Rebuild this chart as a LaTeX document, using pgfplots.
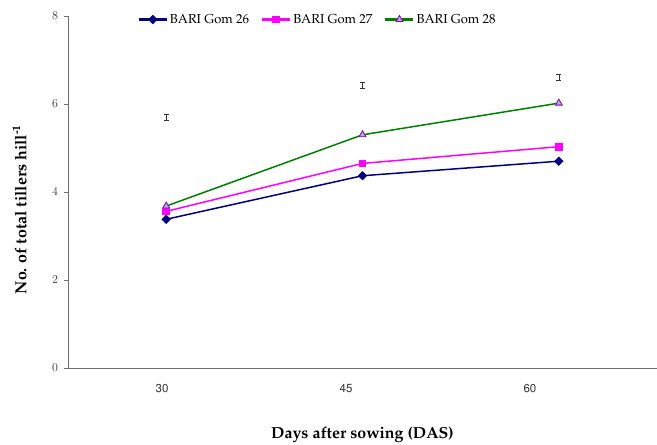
\documentclass[border=0pt]{standalone}
\usepackage[T1]{fontenc}
\usepackage{pgfplots}
\pgfplotsset{compat=1.18}
\renewcommand{\rmdefault}{ppl}
\newcommand{\ticksf}{\fontfamily{phv}\fontsize{11.5}{13}\selectfont}

\definecolor{gom26}{RGB}{0,0,128}
\definecolor{gom27}{RGB}{255,0,255}
\definecolor{gom28}{RGB}{0,128,0}
\definecolor{trifill}{RGB}{150,180,240}
\definecolor{triedge}{RGB}{150,0,160}
\definecolor{axisgray}{RGB}{110,110,110}

\begin{document}
\begin{tikzpicture}
\path[use as bounding box] (0pt,0pt) rectangle (657pt,445pt);
\begin{axis}[
  at={(68pt,77pt)}, anchor=south west,
  scale only axis, width=589pt, height=352pt,
  xmin=-0.5, xmax=2.5, ymin=0, ymax=8,
  axis x line*=bottom, axis y line*=left,
  axis line style={-, axisgray, line width=0.8pt},
  ytick={0,2,4,6,8},
  tick align=outside, major tick length=4pt,
  tick style={axisgray, line width=0.6pt},
  xtick={-0.021,0.916,1.853}, xticklabels={30,45,60},
  xtick style={draw=none},
  extra x ticks={0.453,1.39}, extra x tick labels={},
  extra x tick style={tick style={axisgray, line width=0.6pt}, major tick length=3pt},
  ticklabel style={font=\ticksf, text=black!80},
  xticklabel style={anchor=center, yshift=-17pt},
  yticklabel style={anchor=center, xshift=-9pt},
  xlabel={\textbf{Days after sowing (DAS)}},
  ylabel={\textbf{No. of total tillers hill\textsuperscript{-1}}},
  label style={font=\fontsize{16}{18}\selectfont},
  xlabel style={at={(axis description cs:0.5,-0.19)}, anchor=center},
  ylabel style={at={(axis description cs:-0.082,0.45)}, anchor=center},
  legend columns=3,
  legend style={draw=none, fill=none, at={(axis description cs:0.113,0.99)}, anchor=west,
    font=\fontsize{13}{15}\selectfont,
    /tikz/every even column/.append style={column sep=10pt}},
  legend image code/.code={
    \draw[#1, line width=2.2pt] (0pt,0pt) -- (28pt,0pt);
    \draw[#1, only marks] plot coordinates {(14pt,0pt)};},
  clip=false,
]
\addplot[gom26, line width=1.5pt, mark=square*, mark size=2.9pt,
  mark options={solid, rotate=45, line width=0.8pt}]
  coordinates {(0,3.38) (1,4.37) (2,4.70)};
\addlegendentry{BARI Gom 26}
\addplot[gom27, line width=1.5pt, mark=square*, mark size=3.3pt,
  mark options={solid, line width=0.8pt}]
  coordinates {(0,3.56) (1,4.65) (2,5.03)};
\addlegendentry{BARI Gom 27}
\addplot[gom28, line width=1.5pt, mark=triangle*, mark size=4pt,
  mark options={solid, fill=trifill, draw=triedge, line width=0.8pt}]
  coordinates {(0,3.68) (1,5.30) (2,6.02)};
\addlegendentry{BARI Gom 28}
% LSD bars
\addplot[forget plot, draw=none, mark=none,
  error bars/.cd, y dir=both, y explicit,
  error bar style={draw=black!80, line width=0.5pt},
  error mark options={rotate=90, mark size=2.5pt, draw=black!80, line width=0.5pt}]
  coordinates {(0,5.70) +- (0,0.07) (1,6.42) +- (0,0.07) (2,6.60) +- (0,0.07)};
\end{axis}
\end{tikzpicture}
\end{document}
